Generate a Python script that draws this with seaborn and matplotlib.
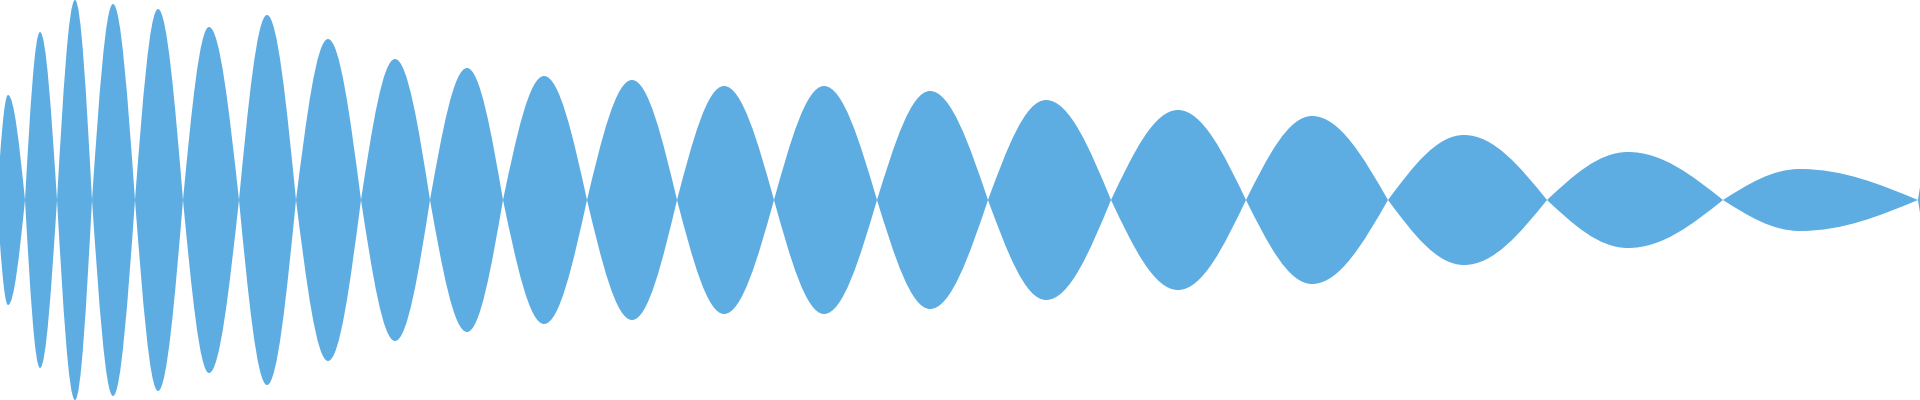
"""
Symmetric waveform envelope: lobes between zero crossings, mirrored about the centre line.
"""

import numpy as np
import matplotlib
matplotlib.use('Agg')
import matplotlib.pyplot as plt
from matplotlib.path import Path
from matplotlib.patches import PathPatch
import seaborn as sns

FILL_COLOR = '#5DADE2'

# zero crossings (x) and the lobe peaks between them (x, half height)
node_x = [-3, 25, 57, 92, 135, 183, 239, 296, 361, 430, 503, 587,
          677, 774, 877, 988, 1111, 1246, 1388, 1547, 1723, 1918]
peak_x = [8, 40, 75, 113, 158, 209, 267, 328, 395, 467, 544,
          632, 724, 824, 930, 1046, 1178, 1312, 1464, 1628, 1800]
peak_amp = [105, 168, 200, 196, 191, 173, 185, 161, 141, 132, 124,
            120, 114, 114, 109, 100, 90, 84, 65, 48, 31]
# last sample at the right edge
end_x = 1920
end_amp = 13

# cubic bezier control fractions approximating a quarter sine
C1X, C2X, C1Y = 0.326, 0.638, 0.512


def upper_vertices():
    verts = [(node_x[0], 0.0)]
    for i in range(len(peak_x)):
        left, right = node_x[i], node_x[i + 1]
        xp, a = peak_x[i], peak_amp[i]
        rise = xp - left
        fall = right - xp
        verts += [(left + C1X * rise, C1Y * a), (left + C2X * rise, a), (xp, a)]
        verts += [(right - C2X * fall, a), (right - C1X * fall, C1Y * a), (right, 0.0)]
    # straight tail to the edge sample, written as a cubic
    x0 = node_x[-1]
    verts += [(x0 + (end_x - x0) / 3, end_amp / 3), (x0 + 2 * (end_x - x0) / 3, 2 * end_amp / 3),
              (end_x, end_amp)]
    return verts


def build_path():
    up = upper_vertices()
    low = [(x, -y) for x, y in reversed(up)]
    verts = up + [low[0]] + low[1:] + [up[0]]
    codes = [Path.MOVETO] + [Path.CURVE4] * (len(up) - 1)
    codes += [Path.LINETO] + [Path.CURVE4] * (len(low) - 1)
    codes += [Path.CLOSEPOLY]
    return Path(np.array(verts), codes)


def main():
    sns.set_theme(style='white')
    fig = plt.figure(figsize=(19.2, 4), dpi=100)
    ax = fig.add_axes([0, 0, 1, 1])
    ax.add_patch(PathPatch(build_path(), facecolor=FILL_COLOR, edgecolor='none', lw=0))
    ax.set_xlim(0, 1920)
    ax.set_ylim(-200, 200)
    ax.axis('off')
    fig.savefig('out.png', dpi=100, facecolor='white')
    plt.close(fig)


if __name__ == '__main__':
    main()
